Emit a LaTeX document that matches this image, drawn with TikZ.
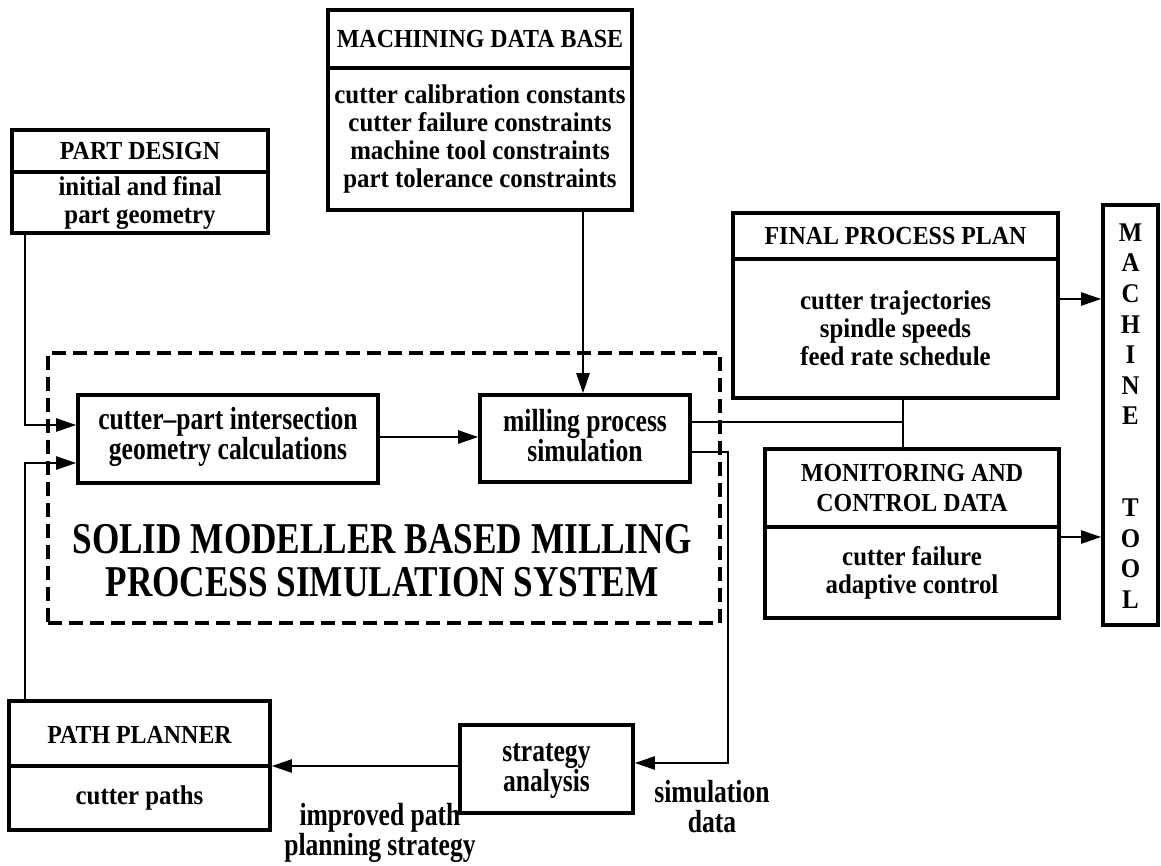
\documentclass[tikz,border=0pt]{standalone}
\usepackage{fontspec}
\setmainfont{Liberation Serif}
\newfontfamily\normfont{Liberation Serif}[FakeStretch=0.92,Ligatures=TeX]
\newfontfamily\condfont{Liberation Serif}[FakeStretch=0.8,Ligatures=TeX]
\usetikzlibrary{arrows.meta}
\tikzset{
  box/.style={draw, line width=3.6pt, inner sep=0pt},
  txt/.style={align=center, inner sep=0pt, font=\normfont\fontsize{27}{28}\selectfont\bfseries},
  htxt/.style={align=center, inner sep=0pt, font=\normfont\fontsize{26}{30}\selectfont\bfseries},
  ctxt/.style={align=center, inner sep=0pt, font=\condfont\fontsize{32}{30}\selectfont\bfseries},
  big/.style={align=center, inner sep=0pt, font=\condfont\fontsize{44}{43}\selectfont\bfseries},
  conn/.style={line width=2.3pt},
  arr/.style={line width=2.3pt, -{Triangle[length=20pt,width=13pt]}},
  divl/.style={line width=3.6pt},
}
\begin{document}
\begin{tikzpicture}[x=1pt,y=-1pt]
\useasboundingbox (0,0) rectangle (1161,865);
% dashed system frame
\node[draw, line width=3.6pt, dash pattern=on 14pt off 7pt, minimum width=672, minimum height=270, inner sep=0pt] (sys) at (384,488) {};
\node[big] (systxt) at (382,561) {SOLID MODELLER BASED MILLING\\PROCESS SIMULATION SYSTEM};

% Machining data base
\node[box, minimum width=304, minimum height=200] (mdb) at (480,110) {};
\node[htxt] (mdbh) at (480,39) {MACHINING DATA BASE};
\node[txt] (mdbb) at (480,139) {cutter calibration constants\\cutter failure constraints\\machine tool constraints\\part tolerance constraints};
\draw[divl] (mdb.west |- 0,68) -- (mdb.east |- 0,68);

% Part design
\node[box, minimum width=256, minimum height=103] (pd) at (140,181.5) {};
\node[htxt] (pdh) at (140,151) {PART DESIGN};
\node[txt] (pdb) at (140,203) {initial and final\\part geometry};
\draw[divl] (pd.west |- 0,172) -- (pd.east |- 0,172);

% Final process plan
\node[box, minimum width=325, minimum height=185] (fpp) at (895.5,305.5) {};
\node[htxt] (fpph) at (895.5,236) {FINAL PROCESS PLAN};
\node[txt] (fppb) at (895.5,328) {cutter trajectories\\spindle speeds\\feed rate schedule};
\draw[divl] (fpp.west |- 0,259) -- (fpp.east |- 0,259);

% Monitoring and control data
\node[box, minimum width=294, minimum height=169] (mcd) at (912,533.5) {};
\node[htxt] (mcdh) at (912,488) {MONITORING AND\\CONTROL DATA};
\node[txt] (mcdb) at (912,573) {cutter failure\\adaptive control};
\draw[divl] (mcd.west |- 0,527) -- (mcd.east |- 0,527);

% Machine tool
\node[box, minimum width=55, minimum height=420] (mt) at (1130.5,415) {};
\node[align=center, inner sep=0pt, font=\normfont\fontsize{27}{30.6}\selectfont\bfseries] (mtt) at (1130.5,416) {M\\A\\C\\H\\I\\N\\E\\[61.2pt]T\\O\\O\\L};

% inner boxes
\node[box, minimum width=300, minimum height=88] (cpi) at (228,439) {};
\node[ctxt] (cpit) at (228,437) {cutter\textendash part intersection\\geometry calculations};
\node[box, minimum width=210, minimum height=87] (mps) at (585,438.5) {};
\node[ctxt] (mpst) at (585,436) {milling process\\simulation};

% strategy analysis
\node[box, minimum width=173, minimum height=88] (sa) at (546.5,769) {};
\node[ctxt] (sat) at (546.5,771) {strategy\\analysis};

% path planner
\node[box, minimum width=261, minimum height=129] (pp) at (139.5,765.5) {};
\node[htxt] (pph) at (139.5,735) {PATH PLANNER};
\node[txt] (ppb) at (139.5,798) {cutter paths};
\draw[divl] (pp.west |- 0,766) -- (pp.east |- 0,766);

% labels
\node[ctxt] (simd) at (712,807) {simulation\\data};
\node[ctxt] (ips) at (380,833) {improved path\\planning strategy};

% connectors
\coordinate (j) at (903,422);
\draw[arr] (pd.south -| 25,0) -- (25,425) -- (cpi.west |- 0,425);
\draw[arr] (pp.north -| 25,0) -- (25,463) -- (cpi.west |- 0,463);
\draw[arr] (cpi.east |- 0,437) -- (mps.west |- 0,437);
\draw[arr] (mdb.south -| 583,0) -- (mps.north -| 583,0);
\draw[conn] (mps.east |- j) -- (j);
\draw[conn] (fpp.south -| j) -- (mcd.north -| j);
\draw[arr] (fpp.east |- 0,299) -- (mt.west |- 0,299);
\draw[arr] (mcd.east |- 0,537) -- (mt.west |- 0,537);
\draw[arr] (mps.east |- 0,452) -- (728,452) -- (728,763) -- (sa.east |- 0,763);
\draw[arr] (sa.west |- 0,766) -- (pp.east |- 0,766);
\end{tikzpicture}
\end{document}
